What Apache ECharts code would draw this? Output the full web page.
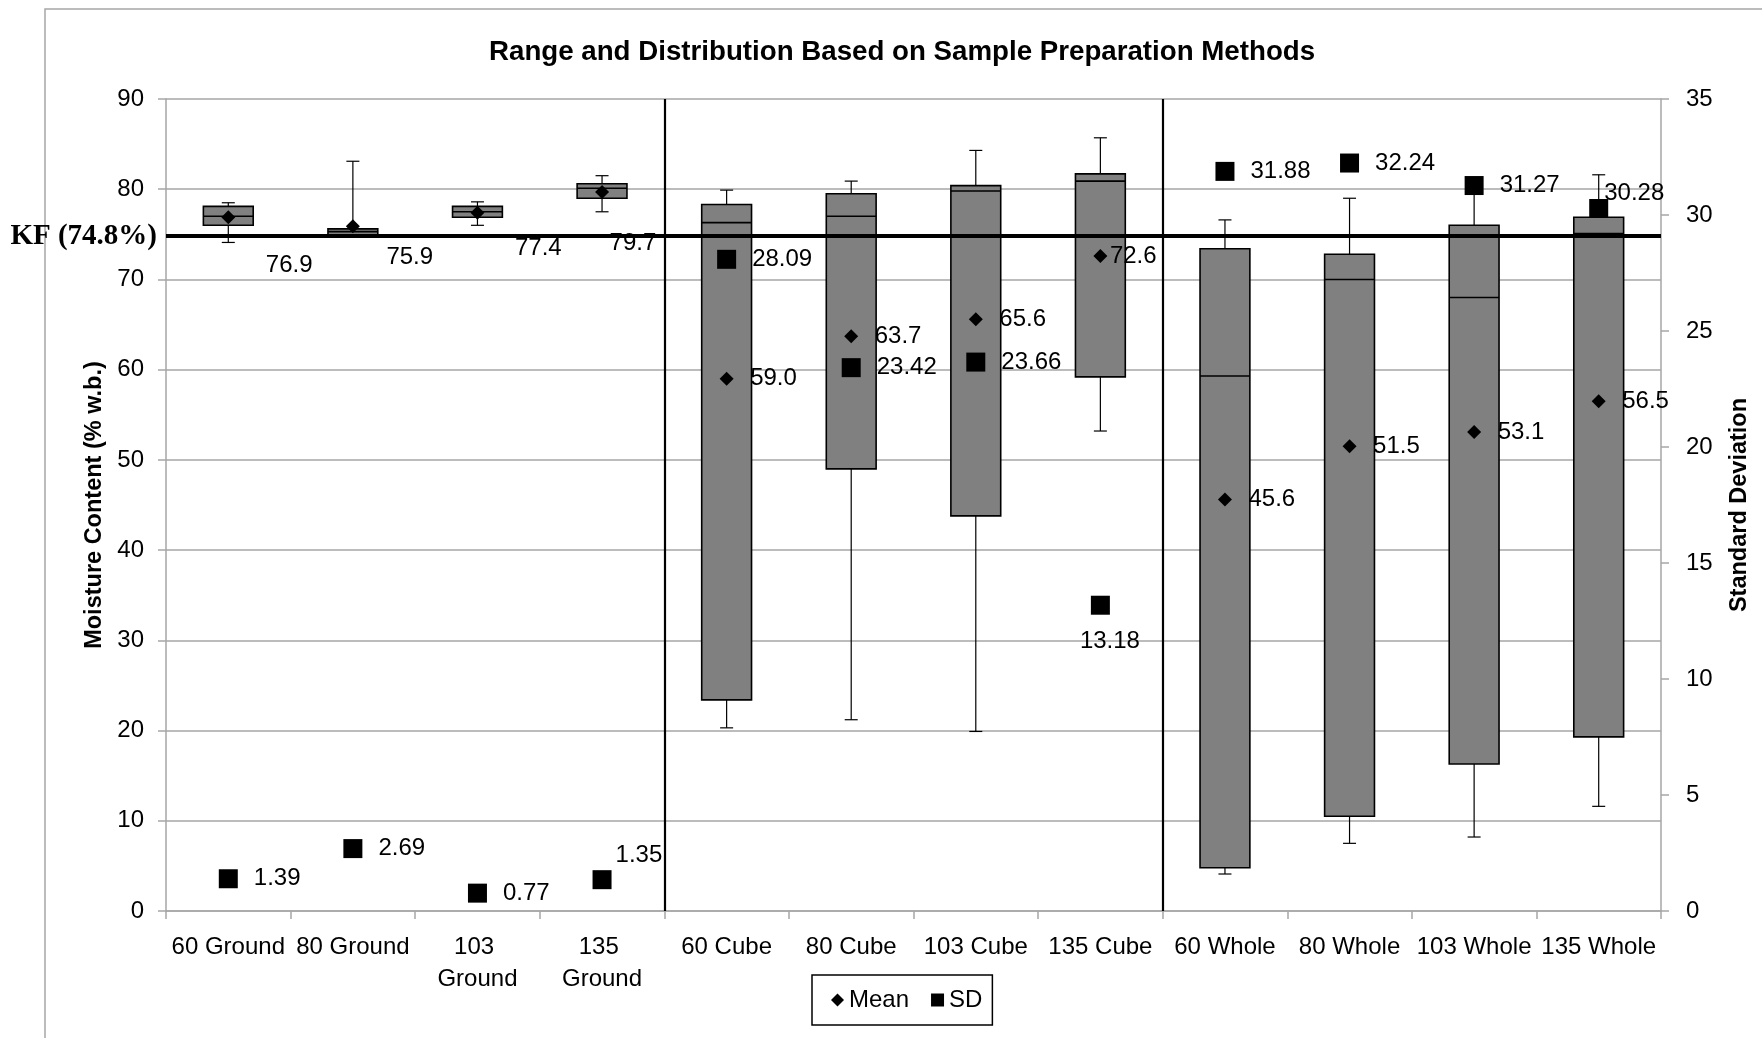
<!DOCTYPE html>
<html><head><meta charset="utf-8">
<script src="https://cdn.jsdelivr.net/npm/echarts@6/dist/echarts.min.js"></script>
<style>html,body{margin:0;padding:0;background:#fff}#c{width:1762px;height:1038px}</style>
</head><body><div id="c"></div>
<script>
// ---- data ----
const categories = ['60 Ground','80 Ground','103 Ground','135 Ground','60 Cube','80 Cube','103 Cube','135 Cube','60 Whole','80 Whole','103 Whole','135 Whole'];
const minValues    = [74.1, 74.7, 76.0, 77.5, 20.3, 21.2, 19.9, 53.2,  4.1,  7.5,  8.2, 11.6];
const q1Values     = [76.0, 74.95, 76.9, 79.0, 23.4, 49.0, 43.8, 59.2,  4.8, 10.5, 16.3, 19.3];
const medianValues = [77.0, 75.3, 77.5, 80.1, 76.3, 77.0, 79.8, 80.9, 59.3, 70.0, 68.0, 75.1];
const q3Values     = [78.1, 75.6, 78.1, 80.6, 78.3, 79.5, 80.4, 81.7, 73.4, 72.8, 76.0, 76.9];
const maxValues    = [78.5, 83.1, 78.6, 81.5, 79.9, 80.9, 84.3, 85.7, 76.6, 79.0, 80.5, 81.6];
const meanValues   = [76.9, 75.9, 77.4, 79.7, 59.0, 63.7, 65.6, 72.6, 45.6, 51.5, 53.1, 56.5];
const sdValues     = [1.39, 2.69, 0.77, 1.35, 28.09, 23.42, 23.66, 13.18, 31.88, 32.24, 31.27, 30.28];
const leftTicks  = {min: 0, max: 90, interval: 10};
const rightTicks = {min: 0, max: 35, interval: 5};
const kfValue = 74.8;
const groupBoundaries = [4, 8];

// ---- label placement (style) ----
const meanLabelShift = [[14,48],[10,31],[14,36],[-16,51],[0,0],[0,0],[0,0],[-14,0],[0,0],[0,0],[0,0],[0,0]];
const sdLabelShift   = [[0,0],[0,0],[0,0],[-12,-24],[0,0],[0,0],[0,0],[-46,36],[0,0],[0,0],[0,0],[-20,-15]];

const FONT = "'Liberation Sans', Arial, sans-serif";
const GRAY = '#a6a6a6';

const boxData = categories.map((c, i) => [i, minValues[i], q1Values[i], medianValues[i], q3Values[i], maxValues[i]]);
const meanData = meanValues.map((v, i) => ({value: [i, v], label: {offset: meanLabelShift[i]}}));
const sdData = sdValues.map((v, i) => ({value: [i, v], label: {offset: sdLabelShift[i]}}));

const chart = echarts.init(document.getElementById('c'), null, {renderer: 'canvas'});
chart.setOption({
  animation: false,
  backgroundColor: '#fff',
  graphic: [{type: 'rect', silent: true, z: -10, shape: {x: 45, y: 9, width: 2000, height: 2000},
    style: {fill: 'none', stroke: GRAY, lineWidth: 1.5}}],
  title: {text: 'Range and Distribution Based on Sample Preparation Methods', left: 484, top: 33,
    textStyle: {fontFamily: FONT, fontWeight: 'bold', fontSize: 27.7, color: '#000'}},
  legend: {left: 812, top: 975, orient: 'horizontal',
    data: [{name: 'Mean', icon: 'diamond'}, {name: 'SD', icon: 'rect'}],
    itemWidth: 13, itemHeight: 13, itemGap: 22, padding: [13, 10, 13, 19],
    borderColor: '#000', borderWidth: 1.5,
    textStyle: {fontFamily: FONT, fontSize: 24, color: '#000'}},
  grid: {left: 166, right: 101, top: 99, bottom: 127},
  xAxis: [{
    type: 'category', data: categories, boundaryGap: true,
    axisLine: {lineStyle: {color: GRAY, width: 1.5}},
    axisTick: {show: true, length: 8, lineStyle: {color: GRAY, width: 1.5}},
    axisLabel: {interval: 0, fontFamily: FONT, fontSize: 24, color: '#000', margin: 20,
      width: 122, overflow: 'break', lineHeight: 32}
  }, {
    type: 'value', min: 0, max: categories.length, show: false
  }],
  yAxis: [{
    type: 'value', min: leftTicks.min, max: leftTicks.max, interval: leftTicks.interval, position: 'left',
    axisLine: {show: true, lineStyle: {color: GRAY, width: 1.5}},
    axisTick: {show: true, length: 8, lineStyle: {color: GRAY, width: 1.5}},
    axisLabel: {fontFamily: FONT, fontSize: 24, color: '#000', margin: 22},
    splitLine: {show: true, lineStyle: {color: GRAY, width: 1.5}},
    name: 'Moisture Content (% w.b.)', nameLocation: 'middle', nameGap: 59, nameRotate: 90,
    nameTextStyle: {fontFamily: FONT, fontWeight: 'bold', fontSize: 23.5, color: '#000'}
  }, {
    type: 'value', min: rightTicks.min, max: rightTicks.max, interval: rightTicks.interval, position: 'right',
    axisLine: {show: true, lineStyle: {color: GRAY, width: 1.5}},
    axisTick: {show: true, length: 8, lineStyle: {color: GRAY, width: 1.5}},
    axisLabel: {fontFamily: FONT, fontSize: 24, color: '#000', margin: 25},
    splitLine: {show: false},
    name: 'Standard Deviation', nameLocation: 'middle', nameGap: 67, nameRotate: 90,
    nameTextStyle: {fontFamily: FONT, fontWeight: 'bold', fontSize: 23.5, color: '#000'}
  }],
  series: [{
    type: 'custom', name: 'Box', xAxisIndex: 0, yAxisIndex: 0, z: 2,
    encode: {x: 0, y: [1, 2, 3, 4, 5]},
    data: boxData,
    renderItem: function (params, api) {
      const x = api.value(0);
      const pMin = api.coord([x, api.value(1)]);
      const pQ1 = api.coord([x, api.value(2)]);
      const pMed = api.coord([x, api.value(3)]);
      const pQ3 = api.coord([x, api.value(4)]);
      const pMax = api.coord([x, api.value(5)]);
      const bw = api.size([1, 0])[0] * 0.4;
      const cx = pMed[0];
      const cap = 6.5;
      const thin = {stroke: '#000', lineWidth: 1.2};
      return {type: 'group', children: [
        {type: 'line', shape: {x1: cx, y1: pQ3[1], x2: cx, y2: pMax[1]}, style: thin},
        {type: 'line', shape: {x1: cx - cap, y1: pMax[1], x2: cx + cap, y2: pMax[1]}, style: thin},
        {type: 'line', shape: {x1: cx, y1: pQ1[1], x2: cx, y2: pMin[1]}, style: thin},
        {type: 'line', shape: {x1: cx - cap, y1: pMin[1], x2: cx + cap, y2: pMin[1]}, style: thin},
        {type: 'rect', shape: {x: cx - bw / 2, y: pQ3[1], width: bw, height: pQ1[1] - pQ3[1]},
          style: {fill: '#808080', stroke: '#000', lineWidth: 1.6}},
        {type: 'line', shape: {x1: cx - bw / 2, y1: pMed[1], x2: cx + bw / 2, y2: pMed[1]},
          style: {stroke: '#000', lineWidth: 1.6}}
      ]};
    }
  }, {
    type: 'line', name: 'Guides', xAxisIndex: 1, yAxisIndex: 0, data: [], z: 3,
    markLine: {silent: true, symbol: 'none', animation: false,
      data: [
        ...groupBoundaries.map(b => ({xAxis: b, lineStyle: {color: '#000', width: 2.2, type: 'solid'}, label: {show: false}})),
        {yAxis: kfValue, lineStyle: {color: '#000', width: 4, type: 'solid'},
          label: {show: true, position: 'start', distance: 9, formatter: 'KF (' + kfValue + '%)',
            fontFamily: "'Liberation Serif', 'Times New Roman', serif", fontWeight: 'bold', fontSize: 29, color: '#000'}}
      ]}
  }, {
    type: 'scatter', name: 'Mean', xAxisIndex: 0, yAxisIndex: 0, z: 4,
    symbol: 'diamond', symbolSize: 14, itemStyle: {color: '#000', opacity: 1},
    label: {show: true, position: 'right', distance: 16.5, fontFamily: FONT, fontSize: 24, color: '#000',
      formatter: p => p.value[1].toFixed(1)},
    data: meanData
  }, {
    type: 'scatter', name: 'SD', xAxisIndex: 0, yAxisIndex: 1, z: 4,
    symbol: 'rect', symbolSize: 19, itemStyle: {color: '#000', opacity: 1},
    label: {show: true, position: 'right', distance: 16, fontFamily: FONT, fontSize: 24, color: '#000',
      formatter: p => p.value[1].toFixed(2)},
    data: sdData
  }]
});
</script></body></html>
